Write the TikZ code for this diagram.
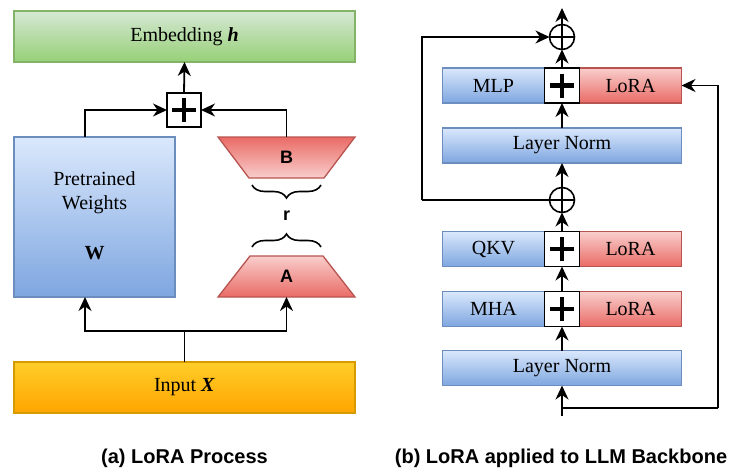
\documentclass[tikz,border=0pt]{standalone}
\usepackage{fontspec}
\setmainfont{Liberation Serif}
\setsansfont{Liberation Sans}
\usetikzlibrary{arrows.meta,calc,decorations.pathreplacing}
\pgfdeclarelayer{background}
\pgfsetlayers{background,main}
\definecolor{blueL}{HTML}{DAE8FC}
\definecolor{blueM}{HTML}{7EA6E0}
\definecolor{blueD}{HTML}{6C8EBF}
\definecolor{redL}{HTML}{F8CECC}
\definecolor{redM}{HTML}{EA6B66}
\definecolor{redD}{HTML}{B85450}
\definecolor{greenL}{HTML}{D5E8D4}
\definecolor{greenM}{HTML}{97D077}
\definecolor{greenD}{HTML}{82B366}
\definecolor{orL}{HTML}{FFCD28}
\definecolor{orM}{HTML}{FFA500}
\definecolor{orD}{HTML}{D79B00}
\begin{document}
\begin{tikzpicture}[x=1pt,y=-1pt,
  txt/.style={font=\fontsize{20}{24}\selectfont},
  box/.style={draw, line width=1.3pt, inner sep=0pt, outer sep=0pt, txt},
  bluebox/.style={box, draw=blueD, top color=blueL, bottom color=blueM},
  redbox/.style={box, draw=redD, top color=redL, bottom color=redM},
  greenbox/.style={box, draw=greenD, top color=greenL, bottom color=greenM},
  orangebox/.style={box, draw=orD, top color=orL, bottom color=orM},
  plusbox/.style={draw=black, line width=1.6pt, fill=white, minimum size=#1, inner sep=0pt, outer sep=0pt,
    path picture={\draw[line width=4.5pt] ([xshift=-12pt]path picture bounding box.center) -- ([xshift=12pt]path picture bounding box.center);
                  \draw[line width=4.5pt] ([yshift=-12pt]path picture bounding box.center) -- ([yshift=12pt]path picture bounding box.center);}},
  oplus/.style={circle, draw=black, line width=1.6pt, fill=white, minimum size=25pt, inner sep=0pt, outer sep=0pt},
  trapnode/.style={minimum width=137pt, minimum height=41pt, inner sep=0pt, outer sep=0pt, font=\sffamily\bfseries\fontsize{18}{20}\selectfont},
  trapshade/.style={draw=redD, line width=1.3pt},
  conn/.style={line width=1.8pt},
  arr/.style={line width=1.8pt, -{Stealth[length=14pt,width=13pt,inset=4.5pt]}},
  bracest/.style={line width=1.6pt, decorate, decoration={brace, amplitude=13pt}},
  capt/.style={font=\sffamily\bfseries\fontsize{20}{24}\selectfont},
]
\begin{pgfonlayer}{background}
\fill[white] (0,0) rectangle (731,471);
\end{pgfonlayer}
\useasboundingbox (0,0) rectangle (731,471);

% ---------- (a) LoRA process ----------
\node[greenbox, minimum width=341pt, minimum height=51pt] (emb) at (184.5,36.5) {Embedding \textbf{\textit{h}}};
\node[plusbox=34pt] (plus) at (184,110) {};
\node[bluebox, minimum width=161pt, minimum height=160pt] (pre) at (94.5,217) {};
\node[txt, align=center] (pretxt) at (94.5,193) {Pretrained\\Weights};
\node[txt] (wtxt) at (94.5,253) {\textbf{W}};

\node[trapnode] (B) at (286.5,157.5) {B};
\node[trapnode] (A) at (286.5,276.5) {A};
\begin{pgfonlayer}{background}
\shade[trapshade, top color=redM, bottom color=redL]
  (B.north west) -- (B.north east) -- ($(B.south east)+(-31,0)$) -- ($(B.south west)+(31,0)$) -- cycle;
\shade[trapshade, top color=redL, bottom color=redM]
  (A.south west) -- (A.south east) -- ($(A.north east)+(-32,0)$) -- ($(A.north west)+(32,0)$) -- cycle;
\end{pgfonlayer}

\draw[bracest] (321,185) -- (252,185);
\node[trapnode, minimum width=0pt, minimum height=0pt] (r) at (286.5,216) {r};
\draw[bracest] (252,247) -- (321,247);

\node[orangebox, minimum width=341pt, minimum height=51pt] (inp) at (184.5,387.5) {Input \textbf{\textit{X}}};

\coordinate (jn) at (184.5,331);
\draw[conn] (inp.north) -- (jn);
\draw[arr] (jn) -| ($(pre.south west)+(71,0)$);
\draw[arr] (jn) -| (A.south);
\draw[arr] ($(pre.north west)+(71,0)$) |- (plus.west);
\draw[arr] (B.north) |- (plus.east);
\draw[arr] (plus.north) -- (emb.south);

\node[capt] (capa) at (184.5,458) {(a) LoRA Process};

% ---------- (b) LoRA applied to LLM backbone ----------
\node[bluebox, minimum width=102pt, minimum height=35pt] (mlp) at (493.5,85.5) {MLP};
\node[redbox, minimum width=102pt, minimum height=35pt] (mlpl) at (630.5,85.5) {LoRA};
\node[plusbox=35pt] (mlpp) at (562,85.5) {};

\node[bluebox, minimum width=239pt, minimum height=35pt] (ln1) at (562,145.5) {Layer Norm};

\node[bluebox, minimum width=102pt, minimum height=35pt] (qkv) at (493.5,249) {QKV};
\node[redbox, minimum width=102pt, minimum height=35pt] (qkvl) at (630.5,249) {LoRA};
\node[plusbox=35pt] (qkvp) at (562,249) {};

\node[bluebox, minimum width=102pt, minimum height=35pt] (mha) at (493.5,309) {MHA};
\node[redbox, minimum width=102pt, minimum height=35pt] (mhal) at (630.5,309) {LoRA};
\node[plusbox=35pt] (mhap) at (562,309) {};

\node[bluebox, minimum width=239pt, minimum height=35pt] (ln2) at (562,368) {Layer Norm};

\node[oplus] (c1) at (562,37) {};
\draw[line width=1.6pt] (c1.north) -- (c1.south) (c1.west) -- (c1.east);
\node[oplus] (c2) at (562,200) {};
\draw[line width=1.6pt] (c2.north) -- (c2.south) (c2.west) -- (c2.east);

\coordinate (top) at (562,8);
\coordinate (lp) at (422,200);
\coordinate (in) at (562,416);
\coordinate (br) at (562,408);
\coordinate (rt) at (718,408);

\draw[arr] (in) -- (ln2.south);
\draw[arr] (ln2.north) -- (mhap.south);
\draw[arr] (mhap.north) -- (qkvp.south);
\draw[arr] (qkvp.north) -- (c2.south);
\draw[arr] (c2.north) -- (ln1.south);
\draw[arr] (ln1.north) -- (mlpp.south);
\draw[arr] (mlpp.north) -- (c1.south);
\draw[arr] (c1.north) -- (top);
\draw[conn] (c2.west) -- (lp);
\draw[arr] (lp) |- (c1.west);
\draw[conn] (br) -- (rt);
\draw[arr] (rt) |- (mlpl.east);

\node[capt] (capb) at (561,458) {(b) LoRA applied to LLM Backbone};
\end{tikzpicture}
\end{document}
